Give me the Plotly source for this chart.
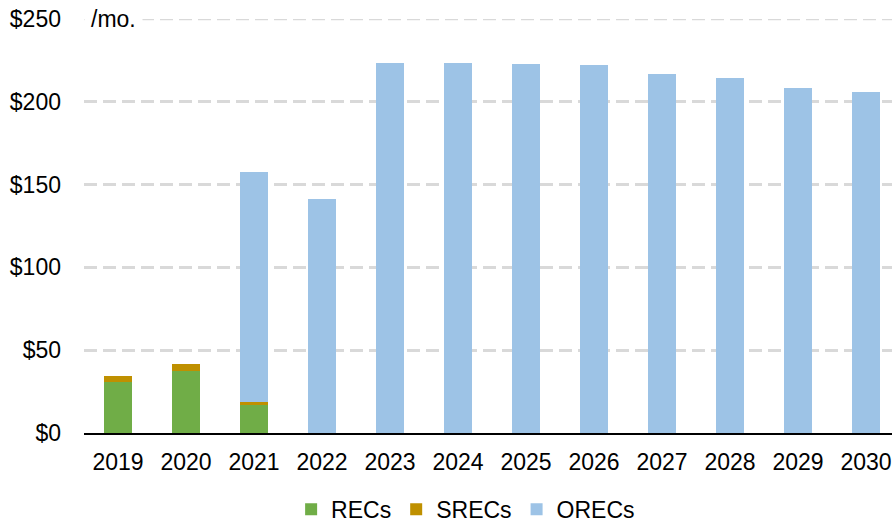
import plotly.graph_objects as go

years = ["2019", "2020", "2021", "2022", "2023", "2024", "2025", "2026", "2027", "2028", "2029", "2030"]
recs = [31, 37.5, 17, 0, 0, 0, 0, 0, 0, 0, 0, 0]
srecs = [3.5, 4.3, 2, 0, 0, 0, 0, 0, 0, 0, 0, 0]
orecs = [0, 0, 138.6, 141.3, 223.4, 223.2, 222.8, 222.2, 216.8, 214.2, 208.3, 205.7]
y_ticks = [0, 50, 100, 150, 200, 250]
y_tick_labels = ["$0", "$50", "$100", "$150", "$200", "$250"]

fig = go.Figure()
fig.add_trace(go.Bar(name="RECs", x=years, y=recs, marker=dict(color="#70AD47", line=dict(width=0))))
fig.add_trace(go.Bar(name="SRECs", x=years, y=srecs, marker=dict(color="#BF9000", line=dict(width=0))))
fig.add_trace(go.Bar(name="ORECs", x=years, y=orecs, marker=dict(color="#9DC3E6", line=dict(width=0))))

font = "Liberation Sans, Arial, sans-serif"
fs = 23
grid_color = "#D9D9D9"
fig.update_layout(
    barmode="stack",
    bargap=0.59,
    width=892, height=525,
    margin=dict(l=84, r=0, t=19, b=92),
    plot_bgcolor="white", paper_bgcolor="white",
    font=dict(family=font, size=fs, color="black"),
    showlegend=True,
    legend=dict(orientation="h", xref="container", yref="container",
                x=0.522, xanchor="center", y=0.03, yanchor="middle",
                font=dict(size=fs), itemwidth=30, traceorder="normal"),
    xaxis=dict(type="category", range=[-0.5, 11.382], showline=True, linecolor="black", linewidth=1.5,
               ticks="", tickfont=dict(size=fs), showgrid=False, automargin=False,
               ticklabelstandoff=8),
    yaxis=dict(range=[0, 250], tickvals=y_ticks, ticktext=y_tick_labels, showgrid=True,
               gridcolor=grid_color, griddash="13px,6px", gridwidth=2.5, zeroline=False,
               ticks="", ticklabelstandoff=22, tickfont=dict(size=fs), automargin=False),
)
# top gridline at the range edge (plotly omits it)
fig.add_shape(type="line", xref="paper", yref="y", x0=0, x1=1, y0=y_ticks[-1], y1=y_ticks[-1],
              line=dict(color=grid_color, width=2.5, dash="13px,6px"), layer="below")
fig.add_annotation(text="/mo.", xref="paper", yref="y", x=0, y=y_ticks[-1],
                   xanchor="left", yanchor="middle", showarrow=False,
                   bgcolor="white", borderpad=6, font=dict(size=fs, family=font))
fig.write_html("out.html", config={"displayModeBar": False},
               post_script="document.body.style.margin='0';document.body.style.overflow='hidden';")
